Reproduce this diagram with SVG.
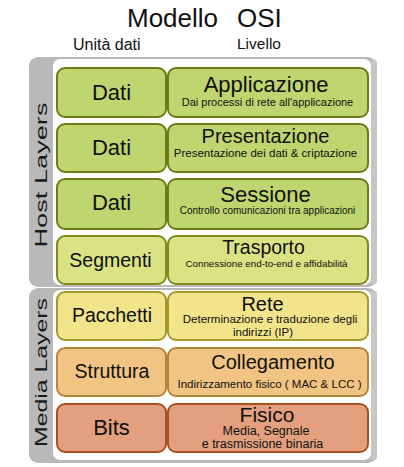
<svg xmlns="http://www.w3.org/2000/svg" width="404" height="467" viewBox="0 0 404 467">
<style>
text{font-family:"Liberation Sans",Arial,sans-serif;fill:#111;text-anchor:middle}
.panel{fill:#b9b9b9}
.inner{fill:#fff}
.box{stroke-width:2}
.g{fill:#bfd670;stroke:#6c7b17}
.y1{fill:#dae384;stroke:#7f8a1e}
.y2{fill:#f1e48b;stroke:#a49a2c}
.o{fill:#f1c483;stroke:#b4853a}
.r{fill:#e3a07e;stroke:#a6521f}
.side{font-size:25;fill:#1a1a1a}
</style>
<rect width="404" height="467" fill="#fff"/>
<text y="27" font-size="26"><tspan x="127" style="text-anchor:start">Modello</tspan><tspan x="237" style="text-anchor:start">OSI</tspan></text>
<text x="73" y="49.5" font-size="16" style="text-anchor:start">Unità dati</text>
<text x="237" y="48.5" font-size="15.5" style="text-anchor:start">Livello</text>

<g id="host-panel">
<rect class="panel" x="29" y="57" width="348" height="230" rx="9"/>
<rect x="370" y="60" width="7" height="224" rx="3" fill="#c6c6c6"/>
<rect class="inner" x="53" y="59" width="318" height="226" rx="7"/>
<text class="side" transform="translate(47,175) rotate(-90)" textLength="145" lengthAdjust="spacingAndGlyphs">Host Layers</text>
</g>
<g id="media-panel">
<rect class="panel" x="29" y="288" width="348" height="175" rx="9"/>
<rect x="370" y="291" width="7" height="169" rx="3" fill="#c6c6c6"/>
<rect class="inner" x="53" y="290" width="318" height="170" rx="7"/>
<text class="side" transform="translate(47,372.5) rotate(-90)" textLength="149" lengthAdjust="spacingAndGlyphs">Media Layers</text>
</g>

<g id="row-applicazione">
<rect class="box g" x="57" y="68" width="109" height="49" rx="8"/>
<rect class="box g" x="168" y="68" width="200" height="49" rx="8"/>
<text x="111.5" y="100" font-size="22">Dati</text>
<text x="266" y="91.5" font-size="22">Applicazione</text>
<text x="267.5" y="105.5" font-size="11">Dai processi di rete all'applicazione</text>
</g>
<g id="row-presentazione">
<rect class="box g" x="57" y="124" width="109" height="48" rx="8"/>
<rect class="box g" x="168" y="124" width="200" height="48" rx="8"/>
<text x="111.5" y="155" font-size="22">Dati</text>
<text x="265.5" y="143" font-size="20">Presentazione</text>
<text x="265.5" y="157" font-size="11.5">Presentazione dei dati &amp; criptazione</text>
</g>
<g id="row-sessione">
<rect class="box g" x="57" y="179" width="109" height="50" rx="8"/>
<rect class="box g" x="168" y="179" width="200" height="50" rx="8"/>
<text x="111.5" y="210" font-size="22">Dati</text>
<text x="265.5" y="201.5" font-size="22">Sessione</text>
<text x="267.5" y="214" font-size="10">Controllo comunicazioni tra applicazioni</text>
</g>
<g id="row-trasporto">
<rect class="box y1" x="57" y="236" width="109" height="48" rx="8"/>
<rect class="box y1" x="168" y="236" width="200" height="48" rx="8"/>
<text x="110.5" y="267" font-size="19.5">Segmenti</text>
<text x="263.5" y="254" font-size="19.5">Trasporto</text>
<text x="266.5" y="267" font-size="9.8">Connessione end-to-end e affidabilità</text>
</g>
<g id="row-rete">
<rect class="box y2" x="57" y="292" width="109" height="48" rx="8"/>
<rect class="box y2" x="168" y="292" width="200" height="48" rx="8"/>
<text x="112" y="322" font-size="19.5">Pacchetti</text>
<text x="262.5" y="311" font-size="20">Rete</text>
<text x="270" y="323" font-size="11.5">Determinazione e traduzione degli</text>
<text x="263" y="336" font-size="11.5">indirizzi (IP)</text>
</g>
<g id="row-collegamento">
<rect class="box o" x="57" y="348" width="109" height="48" rx="8"/>
<rect class="box o" x="168" y="348" width="200" height="48" rx="8"/>
<text x="112" y="378" font-size="19.5">Struttura</text>
<text x="273" y="369" font-size="20">Collegamento</text>
<text x="269.5" y="388" font-size="11.5">Indirizzamento fisico ( MAC &amp; LCC )</text>
</g>
<g id="row-fisico">
<rect class="box r" x="57" y="404" width="109" height="48" rx="8"/>
<rect class="box r" x="168" y="404" width="200" height="48" rx="8"/>
<text x="111.5" y="435" font-size="22">Bits</text>
<text x="267" y="421.5" font-size="21">Fisico</text>
<text x="266" y="434.5" font-size="12.5">Media, Segnale</text>
<text x="262.5" y="447.5" font-size="12.5">e trasmissione binaria</text>
</g>
<g id="connectors"/>
</svg>
